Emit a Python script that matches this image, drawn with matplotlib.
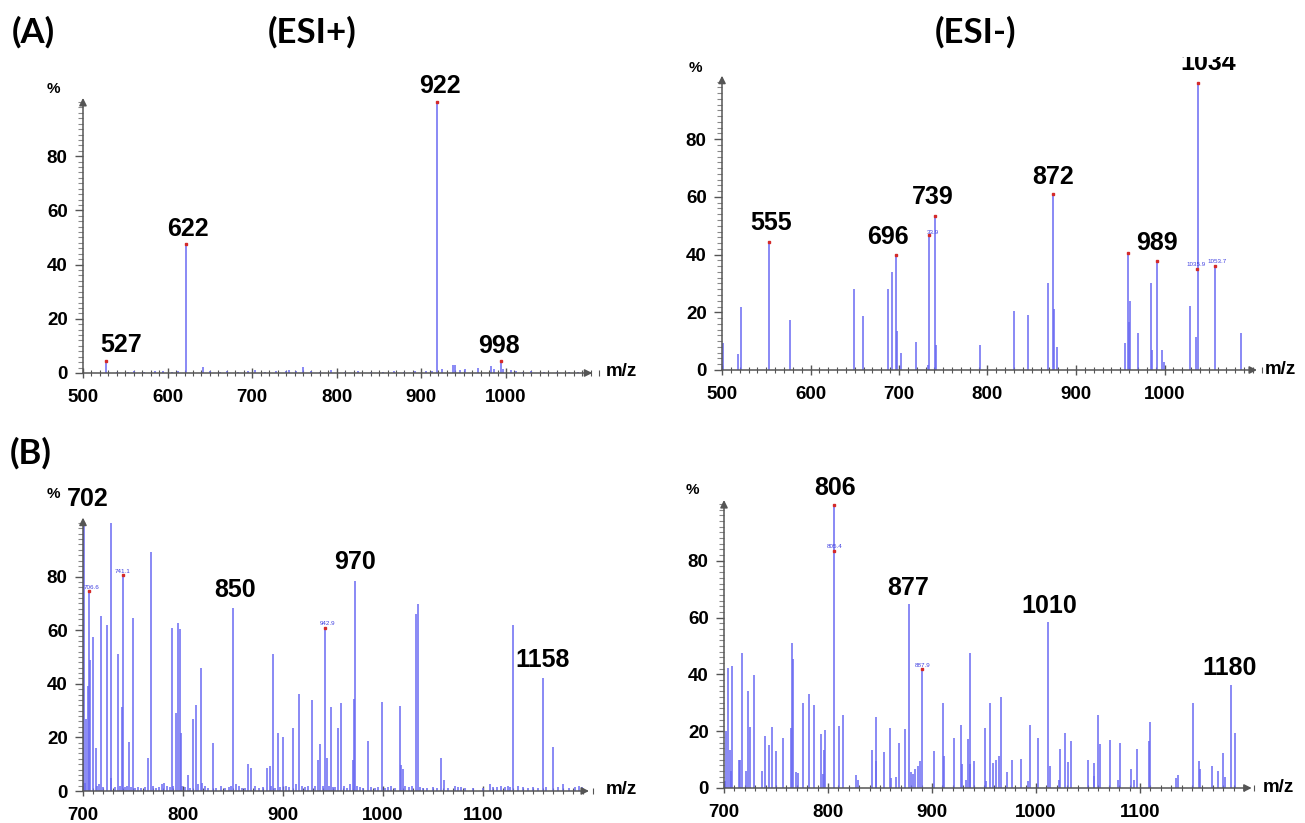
import matplotlib
matplotlib.use('Agg')
import matplotlib.pyplot as plt
from matplotlib.ticker import MultipleLocator

W, H = 1305, 823

# ---------------- DATA ----------------
# (A) ESI+
a_pos_mz = [527, 621.5, 919, 994,
            540, 553, 560, 572, 585, 595, 605, 612, 642, 650, 662, 670, 683, 695, 703, 715,
            728, 740, 744, 752, 760.5, 770, 780, 793, 810, 825, 840, 855, 868, 880, 893, 905,
            912, 924, 937, 940, 946, 952, 967, 982, 986, 997, 1006, 1012, 1020, 1030, 1045,
            1060, 1075, 1085]
a_pos_int = [4.5, 47.5, 100, 4.5,
             0.5, 0.4, 0.6, 0.5, 0.6, 0.9, 0.5, 0.6, 2.2, 0.6, 0.5, 0.8, 0.5, 0.6, 1.0, 0.5,
             0.6, 0.8, 1.0, 0.8, 2.3, 0.8, 0.5, 1.0, 0.5, 0.6, 0.5, 0.5, 0.6, 0.5, 0.7, 0.8,
             0.6, 1.5, 2.8, 2.8, 1.2, 1.5, 2.0, 2.5, 1.3, 1.5, 1.0, 0.8, 0.5, 0.6, 0.4,
             0.5, 0.4, 0.4]
a_pos_dot_mz = [527, 621.5, 919, 994]
a_pos_dot_int = [4.5, 47.5, 100, 4.5]
a_pos_labels = ['527', '622', '922', '998']
a_pos_label_mz = [545, 624, 922, 992]
a_pos_label_y = [10.5, 53, 106, 10]

# (A) ESI-
a_neg_mz = [501.5, 517.7, 521.5, 553.5, 576.8, 649.5, 659, 687.2, 691.7, 696.6, 697.4, 702.6,
            718.8, 732.4, 734.3, 740.7, 741.6, 791.5, 830, 846, 868.7, 874.4, 875.2, 879,
            955.4, 958.6, 959.4, 961, 970.4, 984.4, 986, 991.9, 997.5, 999.8, 1028.8, 1035.6,
            1037.4, 1057, 1086.4]
a_neg_int = [9.2, 5.5, 21.7, 44.5, 17.3, 28, 18.7, 28, 33.8, 39.9, 13.6, 6,
             9.7, 1.7, 46.7, 53.4, 8.7, 8.7, 20.5, 19.2, 30, 61, 21.3, 7.9,
             9.2, 40.7, 16.8, 24, 12.7, 30, 7, 37.7, 7, 2.7, 22.2, 11.3,
             99.5, 36.2, 12.7]
a_neg_dot_mz = [553.5, 696.6, 734.3, 740.7, 874.4, 958.6, 991.9, 1037.4, 1036.8, 1057]
a_neg_dot_int = [44.5, 39.9, 46.7, 53.4, 61, 40.7, 37.7, 99.5, 35, 36.2]
a_neg_labels = ['555', '696', '739', '872', '989', '1034']
a_neg_label_mz = [555, 687, 738, 874.4, 992, 1049]
a_neg_label_y = [51, 46, 60, 67, 44, 106.4]
a_neg_tiny = ['33.9', '1035.9', '1053.7']
a_neg_tiny_mz = [738, 1035.4, 1059]
a_neg_tiny_y = [47.5, 36.5, 37.5]

# (B) ESI+
b_pos_mz = [700, 701, 703, 705, 706, 707, 710, 712.5, 718, 724, 727.5, 728, 734.6, 739, 739.6,
            746, 750, 765, 767.5, 788.8, 792.5, 795, 796.7, 797.5, 804.6, 810, 813, 817.5, 830,
            850.4, 865.4, 868, 884, 886.7, 889.6, 894.6, 899.6, 910, 916, 929, 935, 937, 942,
            944, 948, 954.6, 958, 970, 971, 971.7, 984.6, 998.7, 1016.7, 1018, 1019.6, 1033,
            1034.6, 1058, 1061, 1130, 1159.6, 1170,
            702, 714, 716, 720, 732, 737, 742, 744, 748, 752, 755, 758, 762, 770, 773, 776, 779,
            781, 784, 787, 790, 799, 802, 807, 815, 819, 822, 825, 833, 838, 842, 846, 848, 853,
            856, 859, 862, 872, 876, 880, 888, 892, 897, 903, 906, 913, 919, 922, 925, 932, 940,
            946, 950, 952, 961, 964, 967, 974, 977, 980, 988, 992, 995, 1002, 1005, 1008, 1012,
            1022, 1026, 1029, 1037, 1040, 1044, 1050, 1054, 1065, 1072, 1075, 1078, 1082, 1090,
            1100, 1107, 1110, 1114, 1118, 1122, 1125, 1127, 1135, 1140, 1145, 1150, 1155, 1163,
            1175, 1180, 1186, 1192, 1196, 1199]
b_pos_int = [100, 99, 27, 39, 74.7, 49, 57.6, 16, 65.3, 62, 100, 4.7, 51, 31.5, 80.6,
             18.4, 64.7, 12.2, 89, 61, 29.2, 62.6, 60.3, 21.5, 6, 27, 32, 46, 17.8,
             68.4, 10, 8.5, 8.5, 9.3, 51, 21.8, 20, 23.4, 36.2, 34, 11.6, 17.4, 61,
             12.4, 31.2, 23.6, 32.7, 11.6, 34.2, 78.4, 18.7, 33.3, 31.7, 9.7, 8.1, 66,
             69.7, 12.4, 4.1, 62, 42.3, 16.5,
             3, 2, 2.5, 1.5, 1.5, 2, 1.5, 2, 1.5, 1, 1.5, 1, 1.5, 2, 1, 1.5, 2.5,
             3, 2, 1.5, 2, 2, 1.5, 1, 2.5, 3, 2, 1, 1, 2, 1, 1.5, 2, 2.5,
             2, 1, 1, 2, 1, 1.5, 2, 1, 1.5, 2, 1.5, 2.5, 2, 1.5, 2, 2, 2,
             2, 1.5, 1.5, 2, 1, 2.5, 2, 1.5, 1, 1.5, 1, 1.5, 1, 1.5, 2, 1,
             2, 1.5, 2, 1.5, 1, 1, 1.5, 1, 1, 2, 1.5, 1.5, 1, 1,
             1, 2.5, 1.5, 1.5, 2, 1.5, 2, 1.5, 2, 1.5, 1, 1.5, 1, 1.5,
             1.5, 2.5, 1, 1.5, 2, 1.5]
b_pos_dot_mz = [700, 706, 739.6, 942]
b_pos_dot_int = [100, 74.7, 80.6, 61]
b_pos_labels = ['702', '850', '970', '1158']
b_pos_label_mz = [705, 852, 972, 1160]
b_pos_label_y = [109, 75, 85.5, 49]
b_pos_tiny = ['741.1', '706.6', '942.9']
b_pos_tiny_mz = [740, 709, 944]
b_pos_tiny_y = [82, 76, 62.5]

# (B) ESI-
b_neg_mz = [701, 702, 704, 705.7, 707, 707.7, 714, 715, 717.4, 721.5, 722.7, 724.7, 728.7, 736.4,
            739.7, 743.7, 746, 749.8, 757, 764, 765.6, 766.4, 769, 771, 776, 781.4, 787, 793,
            795, 796.4, 797, 805.7, 811, 814, 827, 829, 842.5, 845.7, 846.6, 854, 859.5, 860.3,
            865.6, 868, 873.7, 877.7, 879.8, 881.4, 883.4, 886.6, 888.3, 890, 901.6, 910.5,
            911.7, 921.5, 928.3, 929, 932.8, 934.8, 936.8, 937, 940, 951, 952, 955.5, 958.3,
            962, 964, 966.4, 972.5, 977, 985.8, 992.7, 994.7, 1002, 1011.7, 1013.4, 1022.3,
            1023, 1028, 1031, 1034, 1050, 1055.5, 1056, 1059.5, 1062, 1071, 1078.5, 1080.6,
            1091.5, 1094.7, 1096.8, 1109, 1110, 1134.4, 1136.4, 1151.4, 1156.7, 1157.5,
            1169.6, 1175, 1180, 1181.8, 1187.4, 1191]
b_neg_int = [2.6, 20, 42.2, 13.5, 6, 42.8, 10, 10, 47.7, 6, 34, 21.5, 39.9, 5.9,
             18.2, 15.2, 21.5, 13.2, 17.6, 21.1, 51.2, 45.4, 5.5, 5.3, 30.1, 33.2, 29.3, 19.1,
             4.9, 13.5, 20.3, 99.6, 22, 25.8, 4.7, 2.9, 13.5, 24.9, 9.4, 12.7, 21.1, 3.5,
             3.8, 15.8, 20.9, 64.7, 5.5, 4.9, 6.7, 7.6, 9.4, 41.9, 12.9, 30.1,
             11.4, 17.6, 22.3, 8.4, 2.9, 17.4, 47.5, 8.4, 9.4, 21.1, 2.3, 30.1, 8.8,
             10, 11.4, 31.9, 5.5, 9.7, 10.2, 2.6, 22.3, 17.6, 58.6, 7.9, 2.9,
             13.7, 19.3, 9.1, 16.4, 9.7, 8.8, 4.3, 25.8, 15.6, 16.8, 2.7, 15.8,
             6.7, 2.9, 13.7, 16.4, 23.4, 3.5, 4.7, 30.1, 9.4, 6.7,
             7.6, 6, 12.5, 3.8, 36.1, 19.3]
b_neg_dot_mz = [805.7, 805.7, 890]
b_neg_dot_int = [99.6, 83.5, 41.9]
b_neg_labels = ['806', '877', '1010', '1180']
b_neg_label_mz = [806.5, 877, 1012.5, 1186]
b_neg_label_y = [105.5, 70.3, 64.1, 42.2]
b_neg_tiny = ['805.4', '887.9']
b_neg_tiny_mz = [806.5, 890.7]
b_neg_tiny_y = [85, 43.3]

y_ticks = [0, 20, 40, 60, 80]
a_x_ticks = [500, 600, 700, 800, 900, 1000]
b_x_ticks = [700, 800, 900, 1000, 1100]

# ---------------- STYLE ----------------
NUM_FONT = ['Liberation Sans', 'DejaVu Sans']
TITLE_FONT = ['Lato', 'Open Sans', 'DejaVu Sans']
BLUE = '#6a6af2'
AXC = '#555555'

fig = plt.figure(figsize=(W / 100, H / 100), dpi=100)


def panel(left, ppu, xlim, y0, ppy, ytop, xticks, mz, inten, dmz, dint,
          labs, lmz, ly, tiny, tmz, ty, arrow_x, arrow_y, clip_labels=False):
    right = left + (xlim[1] - xlim[0]) * ppu
    top = y0 - ytop * ppy
    ax = fig.add_axes([left / W, 1 - y0 / H, (right - left) / W, (y0 - top) / H])
    ax.set_xlim(*xlim)
    ax.set_ylim(0, ytop)
    for s in ax.spines.values():
        s.set_visible(False)
    ax.vlines(mz, 0, inten, color=BLUE, lw=1.1, zorder=2)
    ax.plot(dmz, dint, 's', color='#d42a2a', ms=1.6, zorder=3, clip_on=False)
    for t, x, y in zip(labs, lmz, ly):
        ax.text(x, y, t, ha='center', va='center', fontsize=18, fontweight='bold',
                family=NUM_FONT, clip_on=clip_labels)
    for t, x, y in zip(tiny, tmz, ty):
        ax.text(x, y, t, ha='center', va='center', fontsize=4.5, color='#4040e0',
                family=NUM_FONT)
    ax.annotate('', xy=(arrow_x, 0), xytext=(xlim[0], 0),
                arrowprops=dict(arrowstyle='-|>', color=AXC, lw=1.1, mutation_scale=11,
                                shrinkA=0, shrinkB=0), annotation_clip=False)
    ax.annotate('', xy=(xlim[0], arrow_y), xytext=(xlim[0], 0),
                arrowprops=dict(arrowstyle='-|>', color=AXC, lw=1.1, mutation_scale=11,
                                shrinkA=0, shrinkB=0), annotation_clip=False)
    ax.set_xticks(xticks)
    ax.set_yticks(y_ticks)
    ax.xaxis.set_minor_locator(MultipleLocator(10))
    ax.tick_params(axis='x', which='major', direction='inout', length=7, width=1,
                   color=AXC, pad=8)
    ax.tick_params(axis='x', which='minor', direction='inout', length=4, width=0.8,
                   color=AXC)
    ax.tick_params(axis='y', which='major', direction='out', length=6, width=1,
                   color=AXC, pad=5)
    ax.tick_params(axis='y', which='minor', direction='out', length=3.5, width=0.8,
                   color='#888888')
    ax.set_yticks([v for v in range(0, int(arrow_y), 2)], minor=True)
    for lab in ax.get_xticklabels() + ax.get_yticklabels():
        lab.set_fontsize(13.5)
        lab.set_fontweight('bold')
        lab.set_family(NUM_FONT)
    ax.patch.set_alpha(0)
    return ax


panel(83, 0.846, (500, 1115), 373, 2.71, 105, a_x_ticks, a_pos_mz, a_pos_int,
      a_pos_dot_mz, a_pos_dot_int, a_pos_labels, a_pos_label_mz, a_pos_label_y,
      [], [], [], 1102, 101.5)
panel(722, 0.885, (500, 1115), 370, 2.885, 108.4, a_x_ticks, a_neg_mz, a_neg_int,
      a_neg_dot_mz, a_neg_dot_int, a_neg_labels, a_neg_label_mz, a_neg_label_y,
      a_neg_tiny, a_neg_tiny_mz, a_neg_tiny_y, 1104.5, 102, clip_labels=True)
panel(83, 1.0, (700, 1215), 791, 2.68, 104, b_x_ticks, b_pos_mz, b_pos_int,
      b_pos_dot_mz, b_pos_dot_int, b_pos_labels, b_pos_label_mz, b_pos_label_y,
      b_pos_tiny, b_pos_tiny_mz, b_pos_tiny_y, 1206, 102)
panel(724, 1.04, (700, 1215), 788, 2.84, 104, b_x_ticks, b_neg_mz, b_neg_int,
      b_neg_dot_mz, b_neg_dot_int, b_neg_labels, b_neg_label_mz, b_neg_label_y,
      b_neg_tiny, b_neg_tiny_mz, b_neg_tiny_y, 1207.4, 101.4)


def ftext(x, y, s, **kw):
    fig.text(x / W, 1 - y / H, s, **kw)


for (x, y, s) in [(33, 32, '(A)'), (312, 32, '(ESI+)'), (975, 32, '(ESI-)'), (31, 453, '(B)')]:
    ftext(x, y, s, fontsize=25, fontweight='bold', family=TITLE_FONT, ha='center', va='center')
for (x, y) in [(53, 89), (695, 68), (53, 494), (692, 490)]:
    ftext(x, y, '%', fontsize=11, fontweight='bold', family=NUM_FONT, ha='center', va='center')
for (x, y) in [(621, 371), (1280, 369), (621, 790), (1278, 788)]:
    ftext(x, y, 'm/z', fontsize=13.5, fontweight='bold', family=NUM_FONT, ha='center', va='center')

fig.savefig('out.png', dpi=100)
